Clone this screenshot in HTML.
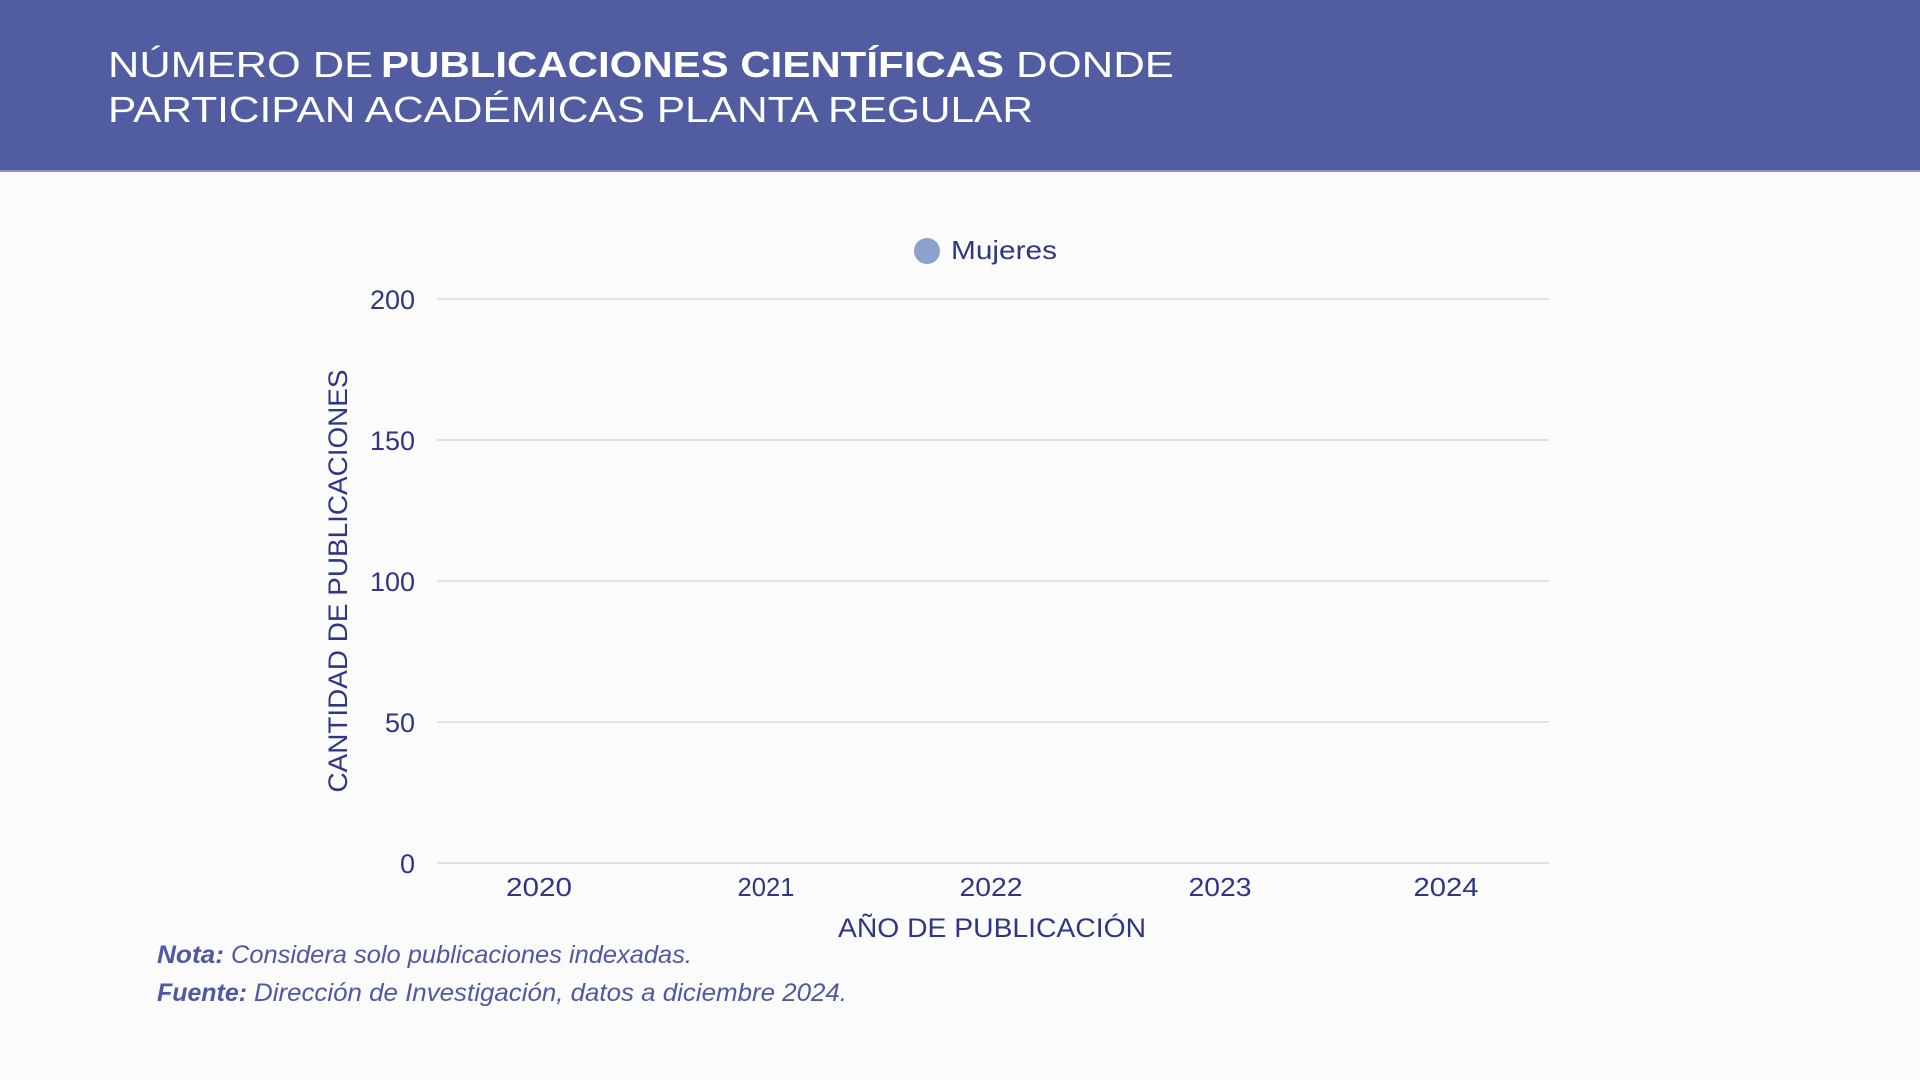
<!DOCTYPE html>
<html>
<head>
<meta charset="utf-8">
<style>
  html, body { margin:0; padding:0; width:1920px; height:1080px; overflow:hidden; background:#fbfbfb; }
  svg { display:block; }
  text { font-family: "Liberation Sans", "DejaVu Sans", sans-serif; }
</style>
</head>
<body>
<svg width="1920" height="1080" viewBox="0 0 1920 1080" xmlns="http://www.w3.org/2000/svg">
  <rect x="0" y="0" width="1920" height="1080" fill="#fbfbfb"/>
  <!-- Header -->
  <rect x="0" y="0" width="1920" height="171" fill="#525ca0"/>
  <rect x="0" y="170" width="1920" height="2" fill="#8d93c6"/>

  <text x="108" y="77" font-size="36" fill="#ffffff" textLength="265" lengthAdjust="spacingAndGlyphs">NÚMERO DE</text>
  <text x="381" y="77" font-size="36" font-weight="bold" fill="#ffffff" textLength="623" lengthAdjust="spacingAndGlyphs">PUBLICACIONES CIENTÍFICAS</text>
  <text x="1016" y="77" font-size="36" fill="#ffffff" textLength="158" lengthAdjust="spacingAndGlyphs">DONDE</text>
  <text x="108" y="122" font-size="36" fill="#ffffff" textLength="925" lengthAdjust="spacingAndGlyphs">PARTICIPAN ACADÉMICAS PLANTA REGULAR</text>

  <!-- Legend -->
  <circle cx="927" cy="251" r="13" fill="#8ca2cc"/>
  <text x="951" y="259" font-size="26" fill="#2e3784" textLength="106" lengthAdjust="spacingAndGlyphs">Mujeres</text>

  <!-- Gridlines -->
  <g stroke="#dadada" stroke-width="1.5">
    <line x1="437" y1="299" x2="1549" y2="299"/>
    <line x1="437" y1="440" x2="1549" y2="440"/>
    <line x1="437" y1="581" x2="1549" y2="581"/>
    <line x1="437" y1="722" x2="1549" y2="722"/>
    <line x1="437" y1="863" x2="1549" y2="863"/>
  </g>

  <!-- Y tick labels -->
  <g font-size="27" fill="#2e3784" text-anchor="end">
    <text x="415" y="309">200</text>
    <text x="415" y="450">150</text>
    <text x="415" y="591">100</text>
    <text x="415" y="732">50</text>
    <text x="415" y="873">0</text>
  </g>

  <!-- Y axis title -->
  <text transform="translate(347,581) rotate(-90)" text-anchor="middle" font-size="27" fill="#2e3784" textLength="423" lengthAdjust="spacingAndGlyphs">CANTIDAD DE PUBLICACIONES</text>

  <!-- X tick labels -->
  <g font-size="26" fill="#2e3784" text-anchor="middle">
    <text x="539" y="896" textLength="66" lengthAdjust="spacingAndGlyphs">2020</text>
    <text x="766" y="896" textLength="57" lengthAdjust="spacingAndGlyphs">2021</text>
    <text x="991" y="896" textLength="63" lengthAdjust="spacingAndGlyphs">2022</text>
    <text x="1220" y="896" textLength="63" lengthAdjust="spacingAndGlyphs">2023</text>
    <text x="1446" y="896" textLength="65" lengthAdjust="spacingAndGlyphs">2024</text>
  </g>

  <!-- X axis title -->
  <text x="992" y="937" text-anchor="middle" font-size="27" fill="#2e3784" textLength="308" lengthAdjust="spacingAndGlyphs">AÑO DE PUBLICACIÓN</text>

  <!-- Footer -->
  <g font-size="25" font-style="italic" fill="#4f58a3">
    <text x="157" y="963" font-weight="bold" textLength="67" lengthAdjust="spacingAndGlyphs">Nota:</text>
    <text x="231" y="963" textLength="461" lengthAdjust="spacingAndGlyphs">Considera solo publicaciones indexadas.</text>
    <text x="157" y="1001" font-weight="bold" textLength="90" lengthAdjust="spacingAndGlyphs">Fuente:</text>
    <text x="254" y="1001" textLength="593" lengthAdjust="spacingAndGlyphs">Dirección de Investigación, datos a diciembre 2024.</text>
  </g>
</svg>
</body>
</html>
